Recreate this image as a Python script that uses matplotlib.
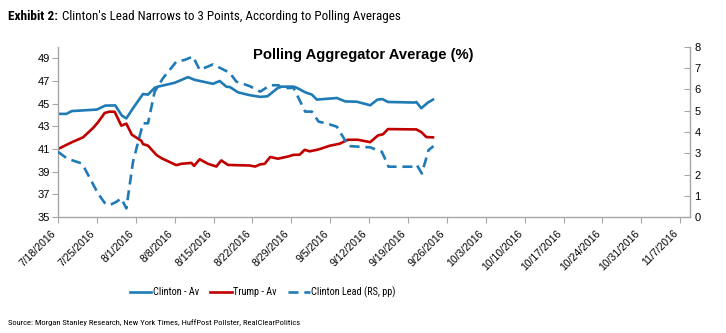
import matplotlib
matplotlib.use("Agg")
import matplotlib.pyplot as plt
from matplotlib import font_manager
import pandas as pd

# ---- data (day offsets from 7/18/2016) ----
start = pd.Timestamp("2016-07-18")

clinton_days = [0, 1.5, 2.5, 7, 8.5, 10.3, 11.5, 12.3, 13.5, 15.3, 16.2, 17.4, 18, 21, 23.4,
                24.6, 27.9, 29.1, 30.3, 31, 32.4, 34.5, 36.4, 37.7, 39.6, 40.3, 42.4, 43,
                44.5, 45.7, 46.6, 50.2, 51.7, 53.8, 56.2, 57.5, 58.4, 59.4, 64.2, 64.5,
                65.4, 66.6, 67.5]
clinton_av = [44.1, 44.1, 44.35, 44.48, 44.83, 44.85, 43.95, 43.7, 44.6, 45.85, 45.8, 46.4,
              46.5, 46.84, 47.34, 47.1, 46.75, 47.0, 46.5, 46.45, 46.0, 45.75, 45.6, 45.65,
              46.4, 46.5, 46.5, 46.4, 46.0, 45.8, 45.36, 45.5, 45.2, 45.17, 44.86, 45.36,
              45.4, 45.15, 45.1, 45.15, 44.6, 45.1, 45.36]

trump_days = [0, 2.4, 4.5, 6.3, 7.2, 8.4, 9.3, 10.2, 11.4, 12.3, 13.3, 15, 15.3, 16.2, 17.7,
              18.6, 21.3, 22.2, 23.4, 24, 24.5, 25.5, 27, 28.5, 29.4, 30.6, 32.1, 34.5,
              35.5, 36.4, 37.2, 38.2, 39.6, 41.4, 42.4, 43.5, 44.4, 45.3, 46.8, 48.9,
              50.7, 52.2, 54, 56.2, 57.6, 58.5, 59.4, 64.5, 65.4, 66.3, 67.5]
trump_av = [41.0, 41.58, 42.03, 42.85, 43.36, 44.18, 44.3, 44.28, 43.06, 43.24, 42.26, 41.73,
            41.44, 41.3, 40.49, 40.2, 39.58, 39.7, 39.75, 39.78, 39.52, 40.1, 39.7, 39.46,
            40.0, 39.6, 39.58, 39.55, 39.46, 39.65, 39.7, 40.3, 40.15, 40.34, 40.49, 40.5,
            40.93, 40.8, 40.95, 41.29, 41.47, 41.82, 41.82, 41.61, 42.2, 42.3, 42.76,
            42.73, 42.5, 42.06, 42.03]

lead_days = [0, 1.6, 2.8, 4.2, 4.8, 7.2, 8.4, 9.3, 10.5, 11.4, 12.3, 13.5, 15.3, 16.2, 17.4,
             18.9, 21.3, 22.8, 24.3, 25.5, 27.9, 30.9, 32.1, 34.5, 36.4, 38.2, 39.7, 40.3,
             42.4, 44.5, 45.7, 46.9, 48.4, 50.2, 52.3, 56.2, 58.3, 59.5, 64.3, 64.6, 65.5,
             66.7, 67.6]
clinton_lead = [3.07, 2.76, 2.65, 2.53, 2.29, 1.11, 0.67, 0.56, 0.72, 0.88, 0.41, 2.6, 4.41,
                4.41, 5.9, 6.53, 7.31, 7.39, 7.55, 6.92, 7.18, 6.79, 6.37, 6.16, 5.9, 6.2,
                6.2, 6.05, 6.08, 4.96, 4.96, 4.49, 4.4, 4.25, 3.34, 3.28, 3.07, 2.37, 2.37,
                2.45, 2.05, 3.15, 3.34]

week_ticks = ["7/18/2016", "7/25/2016", "8/1/2016", "8/8/2016", "8/15/2016", "8/22/2016",
              "8/29/2016", "9/5/2016", "9/12/2016", "9/19/2016", "9/26/2016", "10/3/2016",
              "10/10/2016", "10/17/2016", "10/24/2016", "10/31/2016", "11/7/2016"]
left_ticks = [35, 37, 39, 41, 43, 45, 47, 49]
right_ticks = [0, 1, 2, 3, 4, 5, 6, 7, 8]


def to_dates(days):
    return [start + pd.Timedelta(days=d) for d in days]


def pick_font(candidates):
    names = {f.name for f in font_manager.fontManager.ttflist}
    for c in candidates:
        if c in names:
            return c
    return "DejaVu Sans"


narrow = pick_font(["Roboto Condensed", "Liberation Sans Narrow", "Roboto"])
plain = pick_font(["Liberation Sans", "Arial", "DejaVu Sans"])
plt.rcParams["font.family"] = [plain, "DejaVu Sans"]

BLUE = "#1f7bb6"
RED = "#c00000"
GREY = "#a6a6a6"

fig = plt.figure(figsize=(7.26, 3.33), dpi=100)
ax = fig.add_axes([0.0799, 0.348, 0.871, 0.511])
ax2 = ax.twinx()

l1, = ax.plot(to_dates(clinton_days), clinton_av, color=BLUE, lw=1.9, label="Clinton - Av")
l2, = ax.plot(to_dates(trump_days), trump_av, color=RED, lw=1.9, label="Trump - Av")
l3, = ax2.plot(to_dates(lead_days), clinton_lead, color=BLUE, lw=1.9, ls=(0, (3.8, 2.2)),
               label="Clinton Lead (RS, pp)")

tick_dates = [pd.to_datetime(t, format="%m/%d/%Y") for t in week_ticks]
ax.set_xlim(start, pd.Timestamp("2016-11-08 20:00"))
ax.set_xticks(tick_dates)
ax.set_xticklabels(week_ticks, rotation=45, ha="right", fontsize=7.5)

ax.set_ylim(35, 50)
ax.set_yticks(left_ticks)
ax.set_yticklabels([str(v) for v in left_ticks], fontsize=8)
ax2.set_ylim(0, 8)
ax2.set_yticks(right_ticks)
ax2.set_yticklabels([str(v) for v in right_ticks], fontsize=8)

for a in (ax, ax2):
    for s in a.spines.values():
        s.set_color(GREY)
        s.set_linewidth(1.0)
    a.spines["top"].set_visible(False)
ax.spines["right"].set_visible(False)
ax2.spines["left"].set_visible(False)
ax2.spines["bottom"].set_visible(False)

ax.tick_params(axis="x", direction="out", length=4, color=GREY, pad=4)
ax.tick_params(axis="y", direction="out", length=4, color=GREY, pad=2)
ax2.tick_params(axis="y", direction="in", length=4, color=GREY, pad=3)

fig.text(0.5, 0.835, "Polling Aggregator Average (%)", ha="center", va="center",
         fontsize=10.6, fontweight="bold", family=[plain, "DejaVu Sans"])

fig.text(0.011, 0.950, "Exhibit 2:", ha="left", va="center", fontsize=9.6,
         fontweight="bold", family=[narrow, "DejaVu Sans"])
fig.text(0.0854, 0.950, "Clinton's Lead Narrows to 3 Points, According to Polling Averages",
         ha="left", va="center", fontsize=9.4, family=[narrow, "DejaVu Sans"])
fig.text(0.011, 0.030, "Source: Morgan Stanley Research, New York Times, HuffPost Pollster, RealClearPolitics",
         ha="left", va="center", fontsize=6.1, family=[narrow, "DejaVu Sans"])

fig.legend(handles=[l1, l2, l3], loc="center", bbox_to_anchor=(0.362, 0.123), ncol=3,
           frameon=False, handlelength=2.1, handletextpad=0.15, columnspacing=1.1,
           prop={"family": [narrow, "DejaVu Sans"], "size": 7.4})

fig.savefig("out.png", dpi=100)
